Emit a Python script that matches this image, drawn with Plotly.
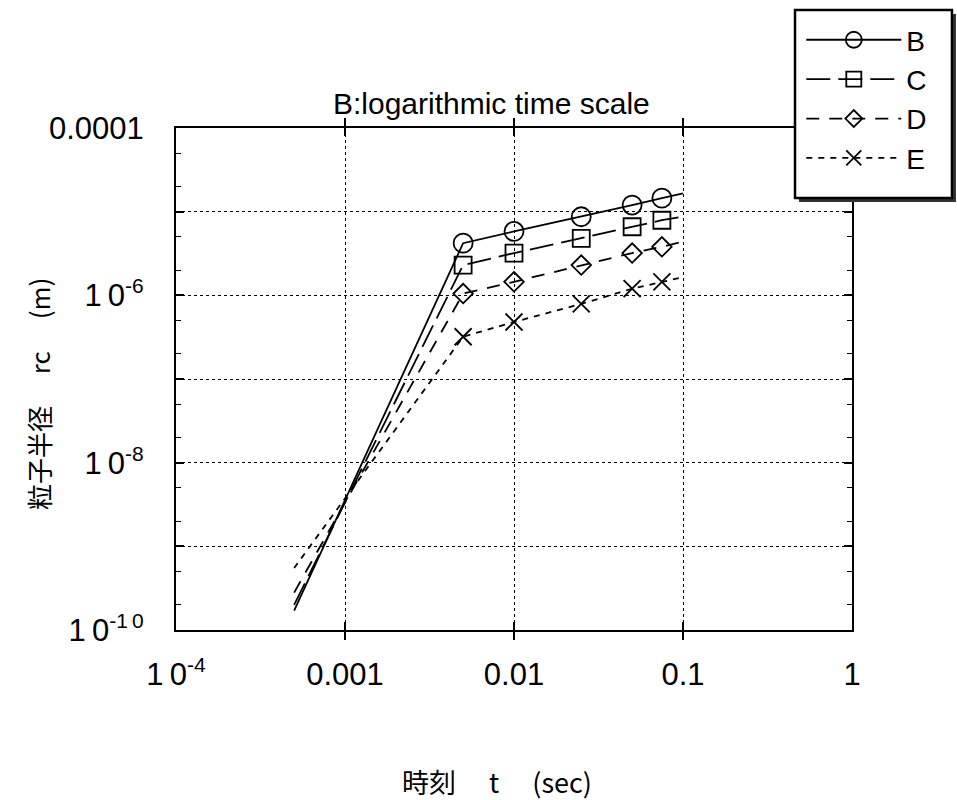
import plotly.graph_objects as go

# ---- data ----
t = [0.0005, 0.005, 0.01, 0.025, 0.05, 0.075, 0.1]
rc_B = [1.7e-10, 4.2e-6, 5.8e-6, 8.7e-6, 1.2e-5, 1.45e-5, 1.65e-5]
rc_C = [2.0e-10, 2.3e-6, 3.2e-6, 4.8e-6, 6.6e-6, 7.9e-6, 8.7e-6]
rc_D = [2.8e-10, 1.05e-6, 1.45e-6, 2.3e-6, 3.2e-6, 3.8e-6, 4.4e-6]
rc_E = [5.5e-10, 3.2e-7, 4.8e-7, 7.9e-7, 1.2e-6, 1.45e-6, 1.65e-6]
series_names = ["B", "C", "D", "E"]

TEN = "1\u20090"
SUP = "<sup><span style='font-size:21px'>{}</span></sup>"
x_tickvals = [1e-4, 1e-3, 1e-2, 1e-1, 1]
x_ticktext = [TEN + SUP.format("-4"), "0.001", "0.01", "0.1", "1"]
y_label_vals = [1e-10, 1e-8, 1e-6, 1e-4]
y_label_text = [TEN + SUP.format("-1\u20090"), TEN + SUP.format("-8"),
                TEN + SUP.format("-6"), "0.0001"]
y_grid_vals = [1e-10, 1e-9, 1e-8, 1e-7, 1e-6, 1e-5, 1e-4]

title_text = "B:logarithmic time scale"
x_title = "時刻　 t　 (sec)"
y_title = "粒子半径　 rc　 (m)"

# ---- styles ----
styles = {
    "B": dict(dash="solid", symbol="circle-open", size=19),
    "C": dict(dash="24px,8px", symbol="square-open", size=17),
    "D": dict(dash="13px,10px", symbol="diamond-open", size=15),
    "E": dict(dash="6px,6px", symbol="x-thin-open", size=17),
}
data = {"B": rc_B, "C": rc_C, "D": rc_D, "E": rc_E}
LW = 1.8

fig = go.Figure()
for name in series_names:
    st = styles[name]
    y = data[name]
    fig.add_trace(go.Scatter(
        x=t, y=y, mode="lines", name=name, legendgroup=name, showlegend=False,
        line=dict(color="black", width=LW, dash=st["dash"]),
        hoverinfo="skip",
    ))
    fig.add_trace(go.Scatter(
        x=t[1:-1], y=y[1:-1], mode="markers", name=name, legendgroup=name,
        showlegend=False,
        marker=dict(symbol=st["symbol"], size=st["size"], color="black",
                    line=dict(color="black", width=LW)),
    ))
    fig.add_trace(go.Scatter(
        x=[None], y=[None], mode="lines+markers", name=name, legendgroup=name,
        line=dict(color="black", width=LW, dash=st["dash"]),
        marker=dict(symbol=st["symbol"], size=st["size"] - 2, color="black",
                    line=dict(color="black", width=LW)),
    ))

font_main = "Liberation Sans, Arial, sans-serif"
font_cjk = "Noto Sans CJK JP, Liberation Sans, sans-serif"

axis_common = dict(
    showline=True, linecolor="black", linewidth=2, mirror="allticks",
    ticks="inside", ticklen=8, tickcolor="black", tickwidth=1.6,
    zeroline=False, automargin=False,
    tickfont=dict(family=font_main, size=31, color="black"),
)
grid_common = dict(showgrid=True, gridcolor="black", gridwidth=1.4, griddash="dot")

fig.update_layout(
    xaxis=dict(type="log", range=[-4, 0], tickmode="array",
               tickvals=x_tickvals, ticktext=x_ticktext, ticklabelstandoff=16,
               **axis_common, **grid_common),
    yaxis=dict(type="log", range=[-10, -4], tickmode="array",
               tickvals=y_label_vals, ticktext=y_label_text, ticklabelstandoff=24,
               showgrid=False,
               minor=dict(ticks="inside", ticklen=5, tickcolor="black",
                          tickwidth=1, showgrid=False),
               **axis_common),
    yaxis2=dict(type="log", range=[-10, -4], overlaying="y", side="left",
                tickmode="array", tickvals=y_grid_vals, showticklabels=False,
                ticks="inside", ticklen=8, tickcolor="black", tickwidth=1.6,
                mirror="allticks", showline=True, linecolor="black", linewidth=2,
                zeroline=False, automargin=False, **grid_common),
)
# invisible trace to activate the grid axis
fig.add_trace(go.Scatter(x=[t[0]], y=[rc_B[0]], yaxis="y2", mode="markers",
                         marker=dict(opacity=0), showlegend=False,
                         hoverinfo="skip"))

# legend frame with shadow (decoration)
fig.add_shape(type="rect", xref="paper", yref="paper", layer="above",
              x0=0.9216, x1=1.1538, y0=0.8526, y1=1.2271,
              fillcolor="#333333", line=dict(width=0))
fig.add_shape(type="rect", xref="paper", yref="paper", layer="above",
              x0=0.9157, x1=1.1479, y0=0.8606, y1=1.2351,
              fillcolor="white", line=dict(color="black", width=2.5))

fig.update_layout(
    width=957, height=800,
    margin=dict(l=176, r=105, t=128, b=170, autoexpand=False),
    paper_bgcolor="white", plot_bgcolor="rgba(0,0,0,0)",
    showlegend=True,
    title=dict(text=title_text, x=0.4665, xref="paper", xanchor="center",
               y=0.871, yref="container", yanchor="middle", automargin=False,
               font=dict(family=font_main, size=30, color="black")),
    legend=dict(
        x=0.925, y=1.225, xanchor="left", yanchor="top",
        bgcolor="rgba(0,0,0,0)", borderwidth=0,
        font=dict(family=font_main, size=28, color="black"),
        itemwidth=95, tracegroupgap=0,
    ),
    annotations=[
        dict(text=x_title, xref="paper", yref="paper", x=0.475, y=0,
             yshift=-130, xanchor="center", yanchor="top", showarrow=False,
             font=dict(family=font_cjk, size=27, color="black")),
        dict(text=y_title, xref="paper", yref="paper", x=0, y=0.47,
             xshift=-138, xanchor="center", yanchor="middle", showarrow=False,
             textangle=-90,
             font=dict(family=font_cjk, size=26, color="black")),
    ],
)

fig.write_html("out.html")
